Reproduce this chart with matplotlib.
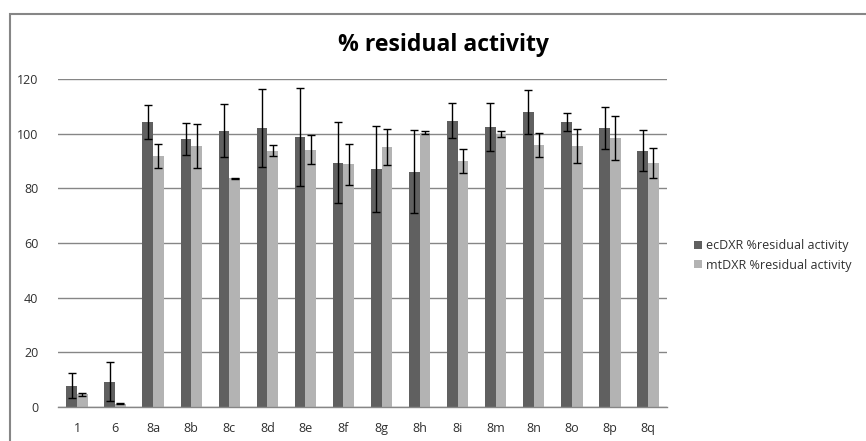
import matplotlib
matplotlib.use("Agg")
import matplotlib.pyplot as plt
import numpy as np
from matplotlib.patches import Rectangle

categories = ["1", "6", "8a", "8b", "8c", "8d", "8e", "8f", "8g", "8h", "8i", "8m", "8n", "8o", "8p", "8q"]
ec_values = [7.8, 9.3, 104.3, 98.1, 101.0, 102.1, 98.8, 89.3, 87.1, 86.0, 104.7, 102.5, 107.9, 104.3, 102.1, 93.8]
ec_errors = [4.6, 7.1, 6.3, 5.8, 9.7, 14.4, 18.0, 14.8, 15.8, 15.2, 6.4, 8.8, 8.0, 3.2, 7.6, 7.6]
mt_values = [4.6, 1.2, 91.9, 95.5, 83.6, 93.7, 94.1, 88.9, 95.1, 100.3, 90.0, 99.9, 95.9, 95.5, 98.4, 89.3]
mt_errors = [0.6, 0.1, 4.5, 8.2, 0.1, 2.0, 5.3, 7.5, 6.5, 0.6, 4.5, 1.0, 4.4, 6.2, 8.0, 5.4]
series_names = ["ecDXR %residual activity", "mtDXR %residual activity"]
title = "% residual activity"
yticks = [0, 20, 40, 60, 80, 100, 120]

plt.rcParams['font.family'] = ['Open Sans', 'DejaVu Sans']

fig = plt.figure(figsize=(8.66, 4.41), dpi=100)
W, H = 866, 441
ax = fig.add_axes([58 / W, 1 - 407 / H, (667 - 58) / W, (407 - 79) / H])

x = np.arange(len(categories))
w = 0.28
dark = "#606060"
light = "#b3b3b3"
ax.bar(x - w / 2, ec_values, w, color=dark, label=series_names[0], zorder=2)
ax.bar(x + w / 2, mt_values, w, color=light, label=series_names[1], zorder=2)
ax.errorbar(x - w / 2, ec_values, yerr=ec_errors, fmt='none', ecolor='black',
            elinewidth=1.0, capsize=3.2, capthick=1.0, zorder=3)
ax.errorbar(x + w / 2, mt_values, yerr=mt_errors, fmt='none', ecolor='black',
            elinewidth=1.0, capsize=3.2, capthick=1.0, zorder=3)

ax.set_xlim(-0.5, len(categories) - 0.5)
ax.set_ylim(0, 120)
ax.set_yticks(yticks)
ax.set_xticks(x)
ax.set_xticklabels(categories)
ax.yaxis.grid(True, color="#868686", linewidth=1.0, zorder=0)
ax.set_axisbelow(True)
for s in ["left", "right", "top"]:
    ax.spines[s].set_visible(False)
ax.spines["bottom"].set_color("#868686")
ax.spines["bottom"].set_linewidth(1.0)
ax.tick_params(axis='both', length=0, labelsize=9, labelcolor="#303030")
ax.tick_params(axis='x', pad=11)
ax.tick_params(axis='y', pad=14)

fig.text(444 / W, 1 - 45 / H, title, ha='center', va='center', fontsize=16.6,
         fontweight='bold', color='black')

leg = fig.legend(loc='upper left', bbox_to_anchor=(683 / W, 1 - 228 / H), frameon=False,
                 fontsize=9, handlelength=0.6, handleheight=0.6, handletextpad=0.35,
                 labelspacing=0.5, labelcolor="#303030")

fig.patches.append(Rectangle((10 / W, -0.1), 1.2, 1.1 - 14 / H, transform=fig.transFigure,
                             fill=False, edgecolor="#868686", linewidth=1.5, figure=fig))

fig.savefig("out.png", dpi=100)
